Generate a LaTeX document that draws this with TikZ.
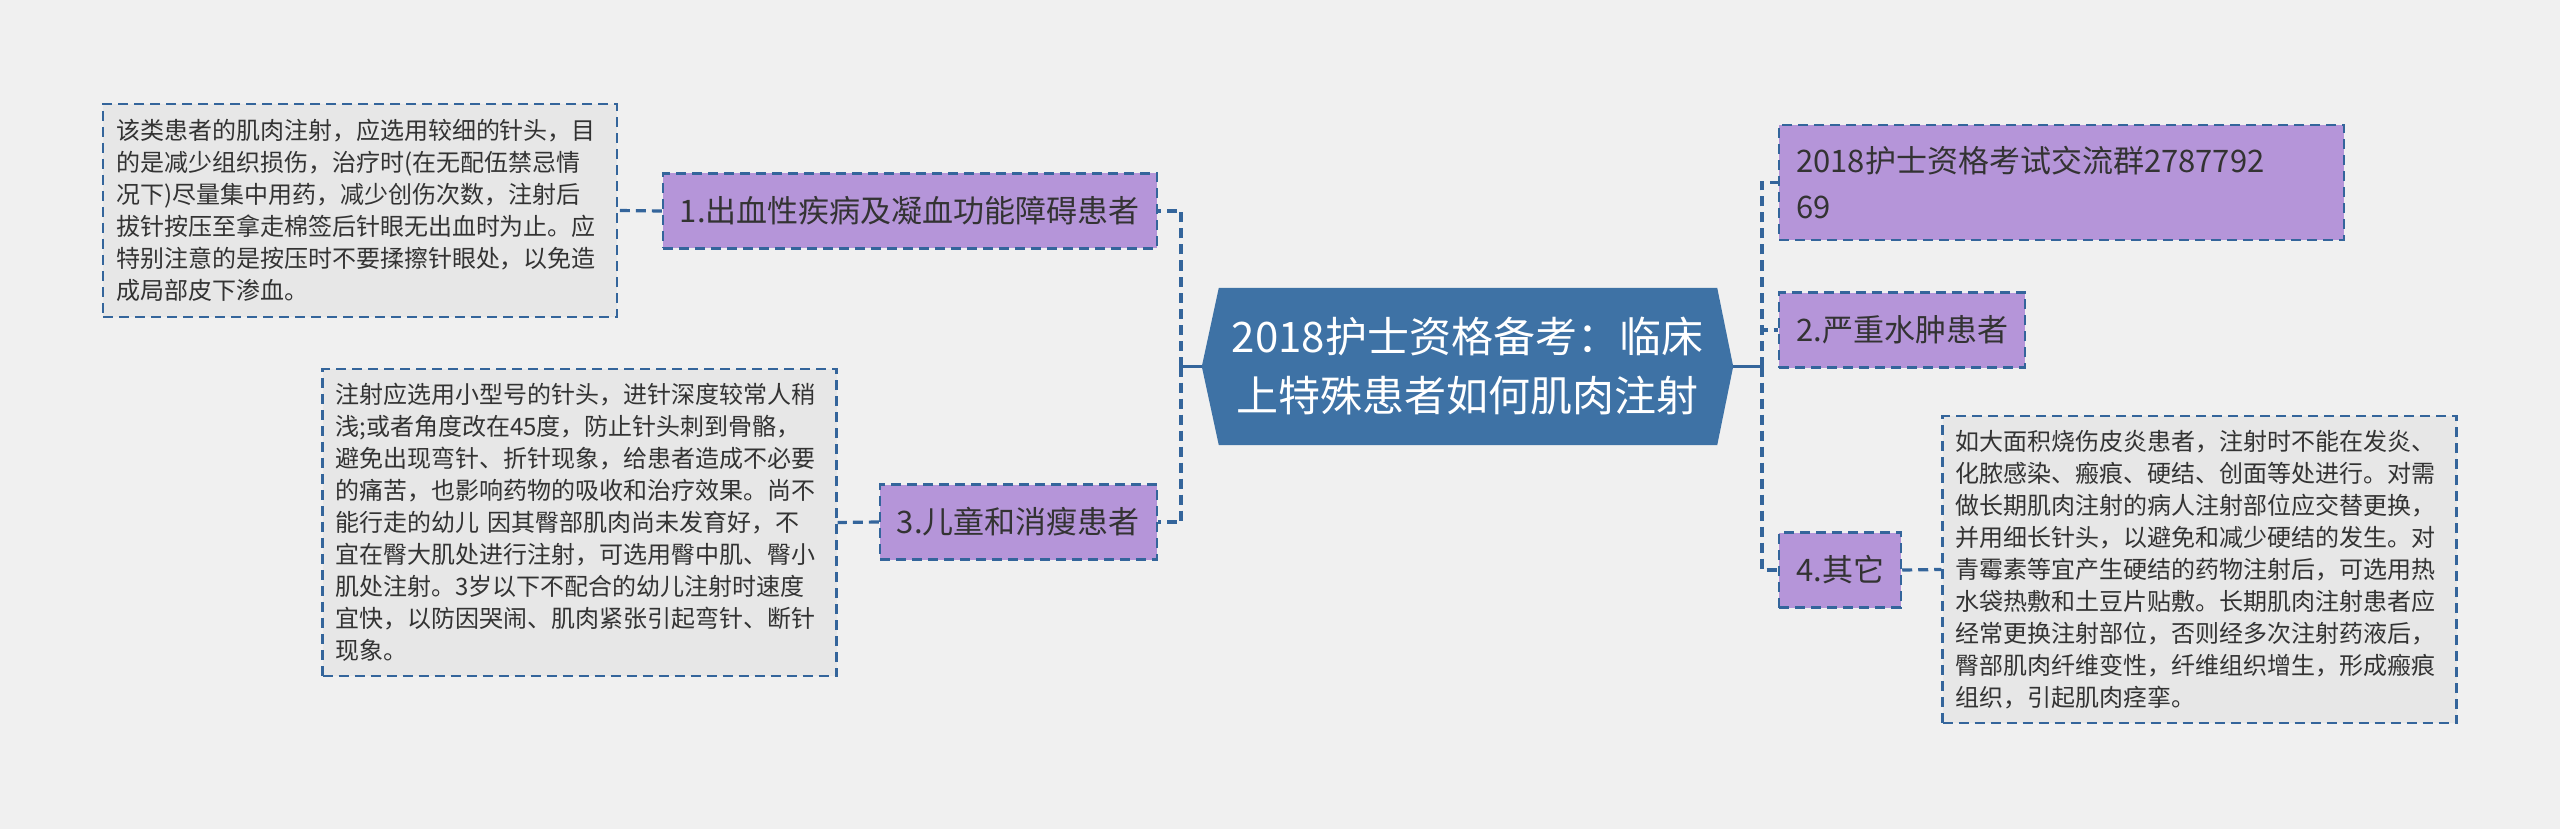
\documentclass[tikz,border=0pt]{standalone}
\usepackage{fontspec}
\setmainfont{Noto Sans CJK SC}
\usetikzlibrary{backgrounds}
\definecolor{bg}{HTML}{F0F0F0}
\definecolor{hexblue}{HTML}{3E72A5}
\definecolor{purp}{HTML}{B595D9}
\definecolor{boxgray}{HTML}{E7E7E7}
\definecolor{dashblue}{HTML}{34659B}
\definecolor{txt}{HTML}{333333}
\begin{document}
\begin{tikzpicture}[x=1pt,y=-1pt,
  conn/.style={draw=dashblue, line width=3.2pt, dash pattern=on 10pt off 6pt},
  trunk/.style={draw=dashblue, line width=3.2pt},
  topic/.style={draw=dashblue, line width=2.4pt, dash pattern=on 10pt off 6pt, fill=purp, text=txt,
    font=\fontsize{31}{46}\selectfont, minimum height=75pt, inner xsep=17pt, inner ysep=0pt},
  detail/.style={draw=dashblue, line width=2.4pt, dash pattern=on 10pt off 6pt, fill=boxgray, text=txt,
    font=\fontsize{24}{32}\selectfont, text width=488pt, align=left, inner xsep=13pt, inner ysep=0pt},
  centre/.style={minimum width=531pt, minimum height=157pt, inner sep=0pt, text=white,
    font=\fontsize{42}{59}\selectfont, align=center}
]
\useasboundingbox (0,0) rectangle (2560,829);

\node[centre] (c) at (1467.5,366.5) {2018护士资格备考：临床\\上特殊患者如何肌肉注射};

\begin{scope}[on background layer]
  \fill[bg] (0,0) rectangle (2560,829);
  \fill[hexblue] (c.west) -- ([xshift=17pt]c.north west) -- ([xshift=-16pt]c.north east) -- (c.east)
    -- ([xshift=-16pt]c.south east) -- ([xshift=17pt]c.south west) -- cycle;
\end{scope}

% left topics
\node[topic, anchor=east] (n1) at (1158,211) {1.出血性疾病及凝血功能障碍患者};
\node[topic, anchor=east] (n3) at (1158,522) {3.儿童和消瘦患者};
% right topics
\node[topic, anchor=west, text width=531pt, align=left, minimum height=115pt] (na) at (1778,182.5)
  {2018护士资格考试交流群2787792\\69};
\node[topic, anchor=west] (n2) at (1778,330) {2.严重水肿患者};
\node[topic, anchor=west] (n4) at (1778,570) {4.其它};

% details
\node[detail, minimum height=213pt] (d1) at (360,210.5) {该类患者的肌肉注射，应选用较细的针头，目\\
的是减少组织损伤，治疗时(在无配伍禁忌情\\
况下)尽量集中用药，减少创伤次数，注射后\\
拔针按压至拿走棉签后针眼无出血时为止。应\\
特别注意的是按压时不要揉擦针眼处，以免造\\
成局部皮下渗血。};
\node[detail, minimum height=307pt] (d3) at (579.5,522.5) {注射应选用小型号的针头，进针深度较常人稍\\
浅;或者角度改在45度，防止针头刺到骨骼，\\
避免出现弯针、折针现象，给患者造成不必要\\
的痛苦，也影响药物的吸收和治疗效果。尚不\\
能行走的幼儿 因其臀部肌肉尚未发育好，不\\
宜在臀大肌处进行注射，可选用臀中肌、臀小\\
肌处注射。3岁以下不配合的幼儿注射时速度\\
宜快，以防因哭闹、肌肉紧张引起弯针、断针\\
现象。};
\node[detail, minimum height=307pt] (d4) at (2199.5,569.5) {如大面积烧伤皮炎患者，注射时不能在发炎、\\
化脓感染、瘢痕、硬结、创面等处进行。对需\\
做长期肌肉注射的病人注射部位应交替更换，\\
并用细长针头，以避免和减少硬结的发生。对\\
青霉素等宜产生硬结的药物注射后，可选用热\\
水袋热敷和土豆片贴敷。长期肌肉注射患者应\\
经常更换注射部位，否则经多次注射药液后，\\
臀部肌肉纤维变性，纤维组织增生，形成瘢痕\\
组织，引起肌肉痉挛。};

% connectors
\coordinate (jl) at (1181,366.5);
\coordinate (jr) at (1762,366.5);
\draw[trunk] (c.west) -- (jl);
\draw[trunk] (c.east) -- (jr);
\draw[conn] (jl) |- (n1.east);
\draw[conn] (jl) |- (n3.east);
\draw[conn] (jr) |- (na.west);
\draw[conn] (jr) |- (n2.west);
\draw[conn] (jr) |- (n4.west);
\draw[conn] (n1.west) -- (d1.east);
\draw[conn] (n3.west) -- (d3.east);
\draw[conn] (n4.east) -- (d4.west);
\end{tikzpicture}
\end{document}
